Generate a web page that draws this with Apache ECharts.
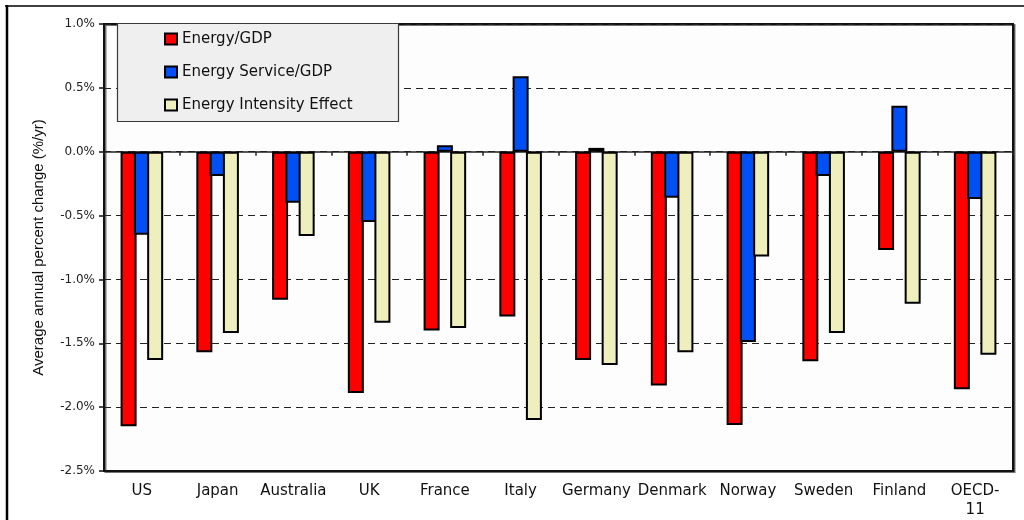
<!DOCTYPE html>
<html>
<head>
<meta charset="utf-8">
<script src="https://cdn.jsdelivr.net/npm/echarts@6/dist/echarts.min.js"></script>
<style>
  html, body { margin: 0; padding: 0; background: #ffffff; }
  #chart { width: 1024px; height: 520px; }
</style>
</head>
<body>
<div id="chart"></div>
<script>
const categories = ['US', 'Japan', 'Australia', 'UK', 'France', 'Italy', 'Germany', 'Denmark', 'Norway', 'Sweden', 'Finland', 'OECD-\n11'];
const energyGdp = [-2.15, -1.57, -1.16, -1.89, -1.40, -1.29, -1.63, -1.83, -2.14, -1.64, -0.77, -1.86];
const energyServiceGdp = [-0.65, -0.19, -0.40, -0.55, 0.05, 0.59, 0.03, -0.36, -1.49, -0.19, 0.36, -0.37];
const intensityEffect = [-1.63, -1.42, -0.66, -1.34, -1.38, -2.10, -1.67, -1.57, -0.82, -1.42, -1.19, -1.59];
const seriesNames = ['Energy/GDP', 'Energy Service/GDP', 'Energy Intensity Effect'];
const yTicks = { min: -2.5, max: 1.0, interval: 0.5 };

const chart = echarts.init(document.getElementById('chart'), null, { renderer: 'canvas' });

const barBorder = { borderColor: '#000', borderWidth: 2 };
const colors = ['#ff0000', '#0050f5', '#efefbd'];
const seriesData = [energyGdp, energyServiceGdp, intensityEffect];

const option = {
  animation: false,
  backgroundColor: '#ffffff',
  textStyle: { fontFamily: 'DejaVu Sans' },
  grid: {
    left: 104, top: 24, right: 11, bottom: 49,
    show: true,
    backgroundColor: '#fdfdfd',
    borderColor: '#111',
    borderWidth: 2,
    shadowColor: 'rgba(0,0,0,0.55)',
    shadowOffsetX: 1.5,
    shadowOffsetY: 1,
    shadowBlur: 0
  },
  legend: {
    orient: 'vertical',
    left: 159,
    top: 26,
    itemWidth: 12,
    itemHeight: 11,
    itemGap: 17,
    icon: 'rect',
    z: 20,
    data: seriesNames,
    textStyle: { fontFamily: 'DejaVu Sans', fontSize: 15, color: '#111', lineHeight: 16 }
  },
  graphic: [
    {
      type: 'rect', z: 15,
      shape: { x: 117.5, y: 23.5, width: 281, height: 98 },
      style: { fill: '#efefef', stroke: '#3a3a3a', lineWidth: 1.2 }
    },
    {
      type: 'line', z: 15,
      shape: { x1: 5, y1: 6, x2: 1024, y2: 6 },
      style: { stroke: '#000', lineWidth: 1.5 }
    },
    {
      type: 'line', z: 15,
      shape: { x1: 7, y1: 5, x2: 7, y2: 520 },
      style: { stroke: '#000', lineWidth: 2.5 }
    }
  ],
  xAxis: [
    {
      type: 'category',
      data: categories,
      position: 'bottom',
      axisLine: { onZero: false, lineStyle: { color: '#111', width: 2 } },
      axisTick: { show: false },
      axisLabel: {
        interval: 0,
        margin: 11,
        fontFamily: 'DejaVu Sans',
        fontSize: 15,
        lineHeight: 19,
        color: '#111'
      },
      splitLine: { show: false }
    },
    {
      type: 'category',
      data: categories,
      position: 'bottom',
      axisLine: { onZero: true, lineStyle: { color: '#222', width: 1.5 } },
      axisTick: { show: true, length: 4, lineStyle: { color: '#222', width: 1.5 } },
      axisLabel: { show: false },
      splitLine: { show: false }
    }
  ],
  yAxis: {
    type: 'value',
    min: yTicks.min,
    max: yTicks.max,
    interval: yTicks.interval,
    name: 'Average annual percent change (%/yr)',
    nameLocation: 'middle',
    nameGap: 58,
    nameTextStyle: { fontFamily: 'Liberation Sans', fontSize: 15, color: '#111' },
    axisLine: { show: true, lineStyle: { color: '#111', width: 2 } },
    axisTick: { show: true, length: 5, lineStyle: { color: '#111', width: 1.5 } },
    axisLabel: {
      margin: 9,
      fontFamily: 'DejaVu Sans',
      fontSize: 12,
      color: '#222',
      formatter: v => v.toFixed(1) + '%'
    },
    splitLine: { show: true, lineStyle: { color: '#222', width: 1.2, type: [7, 5] } }
  },
  series: seriesNames.map((name, i) => ({
    name: name,
    type: 'bar',
    xAxisIndex: 0,
    data: seriesData[i],
    barWidth: 16,
    barGap: '-17%',
    itemStyle: Object.assign({ color: colors[i] }, barBorder),
    emphasis: { disabled: true }
  }))
};

chart.setOption(option);
</script>
</body>
</html>
